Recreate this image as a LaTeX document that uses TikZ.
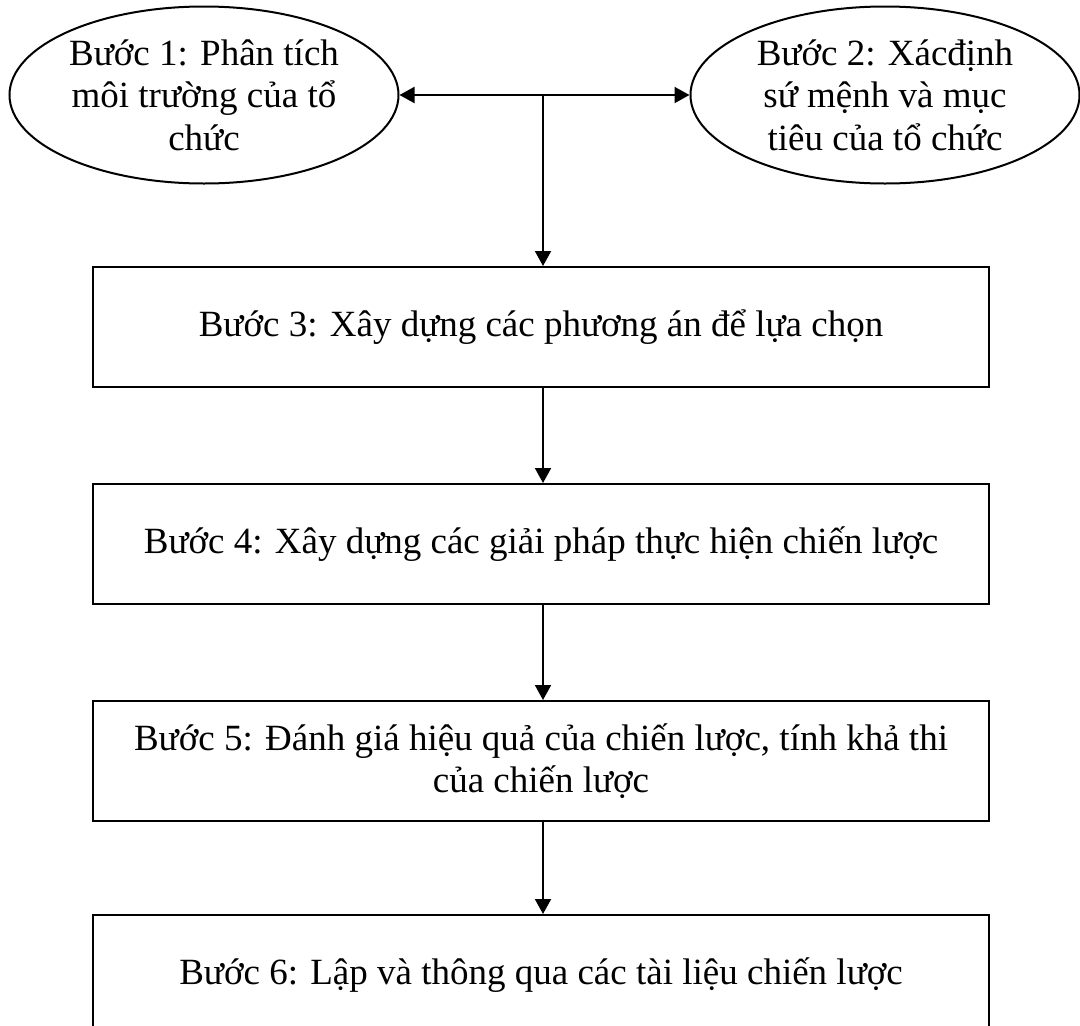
\documentclass[tikz,border=0pt]{standalone}
\usepackage{fontspec}
\setmainfont{Liberation Serif}
\usetikzlibrary{positioning,arrows.meta,shapes.geometric}

\begin{document}
\begin{tikzpicture}[x=1pt,y=-1pt,
    >={Triangle[length=15pt,width=16pt]},
    every node/.style={font=\fontsize{37}{42.5}\selectfont},
    stepell/.style={ellipse, draw, line width=2pt, minimum width=389pt,
      minimum height=177pt, inner sep=0pt, align=center},
    stepbox/.style={rectangle, draw, line width=2pt, minimum width=896pt,
      minimum height=120pt, align=center},
    flow/.style={line width=2pt, ->},
    node distance=95pt]
    \clip (0,0) rectangle (1080,1026);

    \node[stepell] (s1) at (204,95) {Bước 1: Phân tích\\môi trường của tổ\\chức};
    \node[stepell] (s2) at (885,95) {Bước 2: Xácđịnh\\sứ mệnh và mục\\tiêu của tổ chức};
    \node[stepbox] (s3) at (541,327) {Bước 3: Xây dựng các phương án để lựa chọn};
    \node[stepbox, below=of s3] (s4) {Bước 4: Xây dựng các giải pháp thực hiện chiến lược};
    \node[stepbox, below=of s4] (s5) {Bước 5: Đánh giá hiệu quả của chiến lược, tính khả thi\\của chiến lược};
    \node[stepbox, below=92pt of s5] (s6) {Bước 6: Lập và thông qua các tài liệu chiến lược};

    \coordinate (jn) at (543,95);

    \draw[flow, <->] (s1.east) -- (s2.west);
    \draw[flow] (jn) -- (jn |- s3.north);
    \draw[flow] (s3.south -| jn) -- (jn |- s4.north);
    \draw[flow] (s4.south -| jn) -- (jn |- s5.north);
    \draw[flow] (s5.south -| jn) -- (jn |- s6.north);
\end{tikzpicture}
\end{document}
